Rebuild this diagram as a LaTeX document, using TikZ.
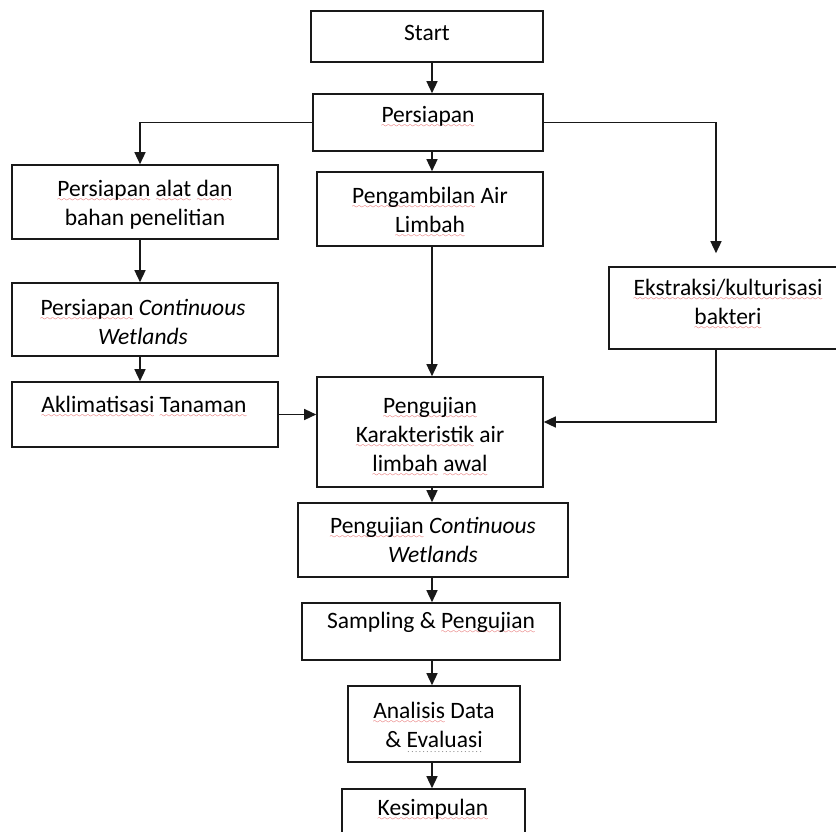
\documentclass[tikz,border=0pt]{standalone}
\usepackage{fontspec}
\setmainfont{Carlito}
\usetikzlibrary{arrows.meta}
\definecolor{sqred}{RGB}{220,50,50}
\font\sixly=lasy7
\newcommand\sq[1]{\setbox0\hbox{#1}\leavevmode\rlap{\textcolor{sqred}{\lower5pt\hbox to\wd0{\xleaders\hbox{\sixly\char58}\hfil}}}\box0\relax}
\newcommand\gd[1]{\setbox0\hbox{#1}\leavevmode\rlap{\textcolor{gray}{\lower5pt\hbox to\wd0{\xleaders\hbox{\kern.7pt\fontsize{9}{9}\selectfont.\kern.7pt}\hfil}}}\box0\relax}
\begin{document}
\begin{tikzpicture}[x=1pt,y=-1pt,
  box/.style={draw=black!90, line width=1.6pt, inner sep=0pt, rectangle},
  txt/.style={align=center, inner sep=0pt, font=\fontsize{23.5}{29}\selectfont, text=black},
  arr/.style={line width=1.4pt, draw=black!90, -{Triangle[length=12pt,width=11pt]}}]
\path[use as bounding box] (0,0) rectangle (836,832);
\clip (0,0) rectangle (836,832);
\fill[white] (0,0) rectangle (836,832);
% boxes
\node[box, minimum width=232pt, minimum height=51pt] (start) at (427,36.5) {};
\node[box, minimum width=230pt, minimum height=57pt] (pers) at (428,122.5) {};
\node[box, minimum width=266pt, minimum height=74pt] (alat) at (145,202) {};
\node[box, minimum width=226pt, minimum height=74pt] (ambil) at (430,209) {};
\node[box, minimum width=250pt, minimum height=82pt] (ekst) at (734,308) {};
\node[box, minimum width=266pt, minimum height=73pt] (pcw) at (145,319.5) {};
\node[box, minimum width=266pt, minimum height=65pt] (aklim) at (145,414.5) {};
\node[box, minimum width=226pt, minimum height=110pt] (uji) at (430,432) {};
\node[box, minimum width=270pt, minimum height=74pt] (ujicw) at (433,540) {};
\node[box, minimum width=258pt, minimum height=57pt] (samp) at (431,631.5) {};
\node[box, minimum width=172pt, minimum height=76pt] (anal) at (434,724) {};
\node[box, minimum width=183pt, minimum height=68pt] (kes) at (433.5,823) {};
% texts
\node[txt] (start-t) at (427,33) {Start};
\node[txt] (pers-t) at (428,117) {\sq{Persiapan}};
\node[txt] (alat-t) at (145,205) {\sq{Persiapan} \sq{alat} \sq{dan}\\bahan penelitian};
\node[txt] (ambil-t) at (430,212) {\sq{Pengambilan} Air\\\sq{Limbah}};
\node[txt] (ekst-t) at (728,304) {\sq{Ekstraksi/kulturisasi}\\\sq{bakteri}};
\node[txt] (pcw-t) at (143,322) {\sq{Persiapan} \textit{Continuous}\\\textit{Wetlands}};
\node[txt] (aklim-t) at (144,407) {\sq{Aklimatisasi} \sq{Tanaman}};
\node[txt] (uji-t) at (430,437) {\sq{Pengujian}\\\sq{Karakteristik} air\\\sq{limbah} \sq{awal}};
\node[txt] (ujicw-t) at (433,540) {\sq{Pengujian} \textit{Continuous}\\\textit{Wetlands}};
\node[txt] (samp-t) at (431,623) {Sampling \& \sq{Pengujian}};
\node[txt] (anal-t) at (434,727) {\sq{Analisis} Data\\\& \gd{Evaluasi}};
\node[txt] (kes-t) at (433,810) {\sq{Kesimpulan}};
% guide coordinates
\coordinate (cx) at (432,0);
\coordinate (lx) at (140,0);
\coordinate (rx) at (716,0);
\coordinate (ek) at (716,422);
% connectors
\draw[arr] (start.south -| cx) -- (pers.north -| cx);
\draw[arr] (pers.south -| cx) -- (ambil.north -| cx);
\draw[arr] (pers.west) -| (alat.north -| lx);
\draw[arr, shorten >=13pt] (pers.east) -| (ekst.north -| rx);
\draw[arr] (alat.south -| lx) -- (pcw.north -| lx);
\draw[arr] (pcw.south -| lx) -- (aklim.north -| lx);
\draw[arr] (aklim.east) -- (aklim.east -| uji.west);
\draw[arr] (ambil.south -| cx) -- (uji.north -| cx);
\draw[arr] (ekst.south -| rx) -- (ek) -- (ek -| uji.east);
\draw[arr] (uji.south -| cx) -- (ujicw.north -| cx);
\draw[arr] (ujicw.south -| cx) -- (samp.north -| cx);
\draw[arr] (samp.south -| cx) -- (anal.north -| cx);
\draw[arr] (anal.south -| cx) -- (kes.north -| cx);
\end{tikzpicture}
\end{document}
